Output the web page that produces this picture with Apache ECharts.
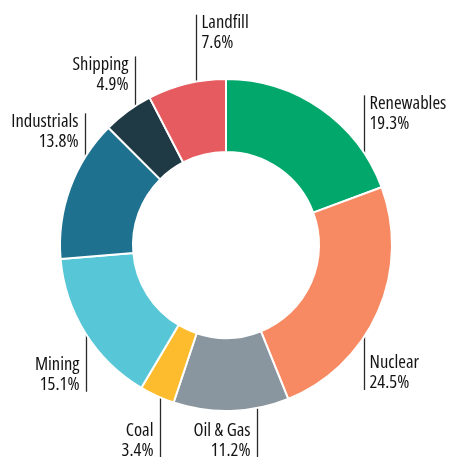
<!DOCTYPE html>
<html><head><meta charset="utf-8">
<script src="https://cdn.jsdelivr.net/npm/echarts@6/dist/echarts.min.js"></script>
<style>html,body{margin:0;padding:0;background:#fff}#c{width:449px;height:457px}</style>
</head><body><div id="c"></div><script>
const categories = ['Renewables', 'Nuclear', 'Oil & Gas', 'Coal', 'Mining', 'Industrials', 'Shipping', 'Landfill'];
const shares = [19.3, 24.5, 11.2, 3.4, 15.1, 13.8, 4.9, 7.6];
const colors = ['#02a76c', '#f78a62', '#8a969f', '#fdbc2e', '#57c6d6', '#1f7190', '#1f3a45', '#e65b5f'];

// annotation layout (not data): leader anchor angle (deg clockwise from 12 o'clock), radius, leader length, direction, text side
const labelAngle = [58.7, 119.8, 168.1, 204.2, 240.1, 295.7, 325.2, 349.7];
const labelRadius = [161, 159, 150, 161, 162, 156, 159, 167];
const leaderLen = [66, 66, 66, 66, 66, 64, 58, 66];
const leaderDir = ['up', 'down', 'down', 'down', 'down', 'up', 'up', 'up'];
const textSide = ['right', 'right', 'left', 'left', 'left', 'left', 'left', 'right'];

const CX = 226, CY = 245;
const chart = echarts.init(document.getElementById('c'), null, {renderer: 'canvas'});
chart.setOption({
  backgroundColor: '#ffffff',
  animation: false,
  series: [{
    type: 'pie',
    center: [CX, CY],
    radius: [93, 166],
    startAngle: 90,
    clockwise: true,
    avoidLabelOverlap: false,
    itemStyle: {borderColor: '#ffffff', borderWidth: 2},
    label: {
      show: true,
      position: 'outside',
      overflow: 'none',
      formatter: p => p.name + '\n' + p.value + '%',
      fontStyle: 'condensed',
      fontWeight: 500,
      fontFamily: "'Open Sans', 'Roboto Condensed', sans-serif",
      fontSize: 18.5,
      lineHeight: 20,
      color: '#141414'
    },
    labelLine: {show: true, length: 10, length2: 10, smooth: false, lineStyle: {color: '#2a2a2a', width: 1.3}},
    labelLayout: function (p) {
      const i = p.dataIndex;
      const a = labelAngle[i] * Math.PI / 180;
      const x = Math.round(CX + labelRadius[i] * Math.sin(a)) + 0.5;
      const y0 = CY - labelRadius[i] * Math.cos(a);
      const up = leaderDir[i] === 'up';
      const y1 = up ? y0 - leaderLen[i] : y0 + leaderLen[i];
      const right = textSide[i] === 'right';
      return {
        x: right ? x + 5 : x - 7,
        y: up ? y1 - 1.5 : y1 + 3,
        align: right ? 'left' : 'right',
        verticalAlign: up ? 'top' : 'bottom',
        labelLinePoints: [[x, y0], [x, (y0 + y1) / 2], [x, y1]]
      };
    },
    data: categories.map((name, i) => ({name: name, value: shares[i], itemStyle: {color: colors[i]}}))
  }]
});
</script></body></html>
